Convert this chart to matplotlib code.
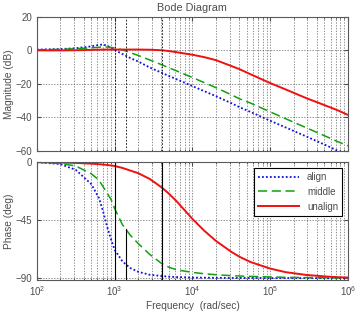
import matplotlib
matplotlib.use("Agg")
import matplotlib.pyplot as plt
from matplotlib.ticker import LogLocator, NullFormatter

plt.rcParams['font.family'] = ['Liberation Sans', 'DejaVu Sans']

# frequency grid (rad/sec) the curves were read at
w = [100, 200, 316, 500, 630, 708, 800, 900, 1000, 1260, 1580, 2000, 2820,
     4000, 5000, 6300, 10000, 14100, 20000, 31600, 40700, 56200, 100000,
     158000, 295000, 562000, 741000, 1000000]

# magnitude (dB)
mag_align = [0.5, 0.8, 1.3, 2.4, 3.3, 3.5, 2.8, 1.6, 0.3, -2.2, -4.5, -6.6, -10.2,
             -13.3, -15.3, -17.3, -21.3, -24.3, -27.3, -31.5, -34.0, -36.8, -42.0,
             -46.0, -51.5, -57.3, -60.0, -62.5]
mag_middle = [0.3, 0.6, 1.0, 1.5, 1.9, 2.0, 2.0, 1.8, 1.4, 0.3, -1.3, -3.0, -5.7,
              -8.5, -10.4, -12.3, -16.2, -19.2, -22.2, -26.5, -29.0, -31.5, -36.7,
              -40.8, -46.3, -52.0, -54.5, -57.0]
mag_unalign = [0.0, 0.0, 0.1, 0.3, 0.4, 0.5, 0.5, 0.5, 0.5, 0.5, 0.5, 0.5, 0.4,
               0.1, -0.4, -1.1, -2.6, -4.0, -5.8, -9.3, -11.3, -14.3, -19.5,
               -23.3, -28.6, -33.6, -35.8, -38.5]

# phase (deg)
ph_align = [0.0, -1.5, -6.0, -17.0, -28.0, -38.0, -50.0, -60.0, -68.0, -77.0, -82.0,
            -85.0, -87.3, -88.3, -88.8, -89.1, -89.5, -89.6, -89.7, -89.8, -89.8,
            -89.8, -89.9, -89.9, -89.9, -90.0, -90.0, -90.0]
ph_middle = [0.0, -1.0, -3.0, -9.0, -14.0, -19.0, -24.0, -29.0, -36.0, -48.5, -56.5,
             -63.0, -71.5, -78.5, -81.5, -83.5, -85.5, -86.5, -87.3, -88.0, -88.3,
             -88.6, -89.0, -89.3, -89.5, -89.7, -89.8, -89.8]
ph_unalign = [0.0, -0.3, -0.6, -1.2, -1.6, -1.9, -2.2, -2.6, -3.0, -4.5, -6.5, -8.5,
              -13.0, -19.5, -24.5, -30.5, -44.0, -53.0, -61.0, -69.5, -73.5, -77.5,
              -82.5, -85.3, -87.5, -88.8, -89.2, -89.5]

# vertical marker lines (rad/sec) and their top end on the phase plot (deg)
mark_w = [1000, 1410, 4070]
mark_top = [0, -52, 0]

txt = '0.3'
fig = plt.figure(figsize=(3.55, 3.13), dpi=100)
ax1 = fig.add_axes([0.104, 0.518, 0.876, 0.428])
ax2 = fig.add_axes([0.104, 0.107, 0.876, 0.375])

styles = [dict(color='#1010e0', ls=(0, (1, 1.2)), lw=1.3, label='align'),
          dict(color='#10a010', ls=(0, (6, 3)), lw=1.1, label='middle'),
          dict(color='#f01010', ls='-', lw=1.4, label='unalign')]

for y, st in zip([mag_align, mag_middle, mag_unalign], styles):
    ax1.plot(w, y, **st)
for y, st in zip([ph_align, ph_middle, ph_unalign], styles):
    ax2.plot(w, y, **st)

for wm, top in zip(mark_w, mark_top):
    ax1.axvline(wm, color='k', ls=(0, (2, 2)), lw=0.6)
    ax2.plot([wm, wm], [-91, top], color='k', lw=0.8)

for ax in (ax1, ax2):
    ax.set_xscale('log')
    ax.set_xlim(1e2, 1e6)
    ax.xaxis.set_major_locator(LogLocator(base=10, numticks=10))
    ax.xaxis.set_minor_locator(LogLocator(base=10, subs=range(2, 10), numticks=10))
    ax.xaxis.set_minor_formatter(NullFormatter())
    ax.grid(True, which='both', axis='x', color='0.4', ls=(0, (2, 2)), lw=0.5)
    ax.grid(True, which='major', axis='y', color='0.4', ls=(0, (2, 2)), lw=0.5)
    ax.tick_params(which='both', direction='in', top=True, right=True,
                   labelsize=7, colors=txt, length=3)
    ax.tick_params(which='minor', length=1.5)
    for sp in ax.spines.values():
        sp.set_color('0.35')

ax1.set_ylim(-60, 20)
ax1.set_yticks([-60, -40, -20, 0, 20])
ax1.tick_params(labelbottom=False)
ax1.set_ylabel('Magnitude (dB)', fontsize=7.3, color=txt)
ax1.yaxis.set_label_coords(-0.074, 0.5)
ax1.set_title('Bode Diagram', fontsize=7.8, color=txt, pad=4)

ax2.set_ylim(-91, 0)
ax2.set_yticks([-90, -45, 0])
ax2.set_ylabel('Phase (deg)', fontsize=7.3, color=txt)
ax2.yaxis.set_label_coords(-0.074, 0.5)
ax2.set_xlabel('Frequency  (rad/sec)', fontsize=7.3, color=txt, labelpad=2)

leg = ax2.legend(loc='upper right', bbox_to_anchor=(0.981, 0.949), fontsize=7,
                 fancybox=False, edgecolor='k', framealpha=1, borderaxespad=0,
                 handlelength=4.2, labelspacing=0.5)
leg.get_frame().set_linewidth(0.8)
for t in leg.get_texts():
    t.set_color(txt)

fig.savefig('out.png', dpi=100)
